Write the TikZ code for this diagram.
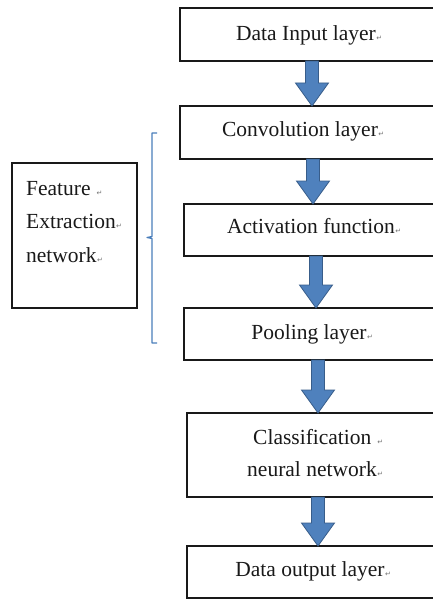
\documentclass[tikz,border=0pt]{standalone}
\usepackage{fontspec}
\setmainfont{Liberation Serif}
\newfontfamily\symfont{DejaVu Sans}
\usetikzlibrary{calc}
\definecolor{arrfill}{HTML}{4F81BD}
\definecolor{arredge}{HTML}{385D8A}
\definecolor{bracecol}{HTML}{4A7EBB}
\newcommand\ret{\rlap{\kern0.5pt{\symfont\fontsize{7}{7}\selectfont\color{black!55}↵}}}
\newcommand\flowarrow[3]{%
  \filldraw[flowarr] let \p1=(#1.south), \p2=(#2.north) in
    ({#3pt-6.5pt},\y1) -- ({#3pt-6.5pt},\y2+23pt) -- ({#3pt-16.5pt},\y2+23pt)
    -- (#3pt,\y2) -- ({#3pt+16.5pt},\y2+23pt) -- ({#3pt+6.5pt},\y2+23pt)
    -- ({#3pt+6.5pt},\y1) -- cycle;}
\begin{document}
\begin{tikzpicture}[x=1pt,y=-1pt,
  box/.style={draw=black!90, line width=1.6pt, anchor=north west, inner sep=0pt, outer sep=0pt},
  txt/.style={font=\fontsize{21.5}{21.5}\selectfont, text=black!90, inner sep=0pt},
  flowarr/.style={fill=arrfill, draw=arredge, line width=0.8pt, line join=miter}]
\useasboundingbox (0,0) rectangle (433,599);
\clip (0,0) rectangle (433,599);
\fill[white] (0,0) rectangle (433,599);
% boxes
\node[box, minimum width=270pt, minimum height=53pt] (b1) at (180,8) {};
\node[box, minimum width=270pt, minimum height=53pt] (b2) at (180,106) {};
\node[box, minimum width=266pt, minimum height=52pt] (b3) at (184,204) {};
\node[box, minimum width=266pt, minimum height=52pt] (b4) at (184,308) {};
\node[box, minimum width=263pt, minimum height=84pt] (b5) at (187,413) {};
\node[box, minimum width=263pt, minimum height=52pt] (b6) at (187,546) {};
\node[box, minimum width=125pt, minimum height=145pt] (fe) at (12,163) {};
% texts
\node[txt, anchor=base] (t1) at (306,41) {Data Input layer\ret};
\node[txt, anchor=base] (t2) at (300,136) {Convolution layer\ret};
\node[txt, anchor=base] (t3) at (311,233) {Activation function\ret};
\node[txt, anchor=base] (t4) at (309,339) {Pooling layer\ret};
\node[txt, anchor=base] (t5a) at (315,444) {Classification \ret};
\node[txt, anchor=base] (t5b) at (312,476) {neural network\ret};
\node[txt, anchor=base] (t6) at (310,576) {Data output layer\ret};
\node[txt, anchor=base west] (f1) at (26,195) {Feature \ret};
\node[txt, anchor=base west] (f2) at (26,228) {Extraction\ret};
\node[txt, anchor=base west] (f3) at (26,262) {network\ret};
% arrows
\flowarrow{b1}{b2}{312}
\flowarrow{b2}{b3}{313}
\flowarrow{b3}{b4}{316}
\flowarrow{b4}{b5}{318}
\flowarrow{b5}{b6}{318}
% brace
\draw[bracecol, line width=1.2pt, line join=round]
  (157,133) -- (152,133) -- (152,236.5) -- (147,237.5) -- (152,238.5) -- (152,343) -- (157,343);
\end{tikzpicture}
\end{document}
